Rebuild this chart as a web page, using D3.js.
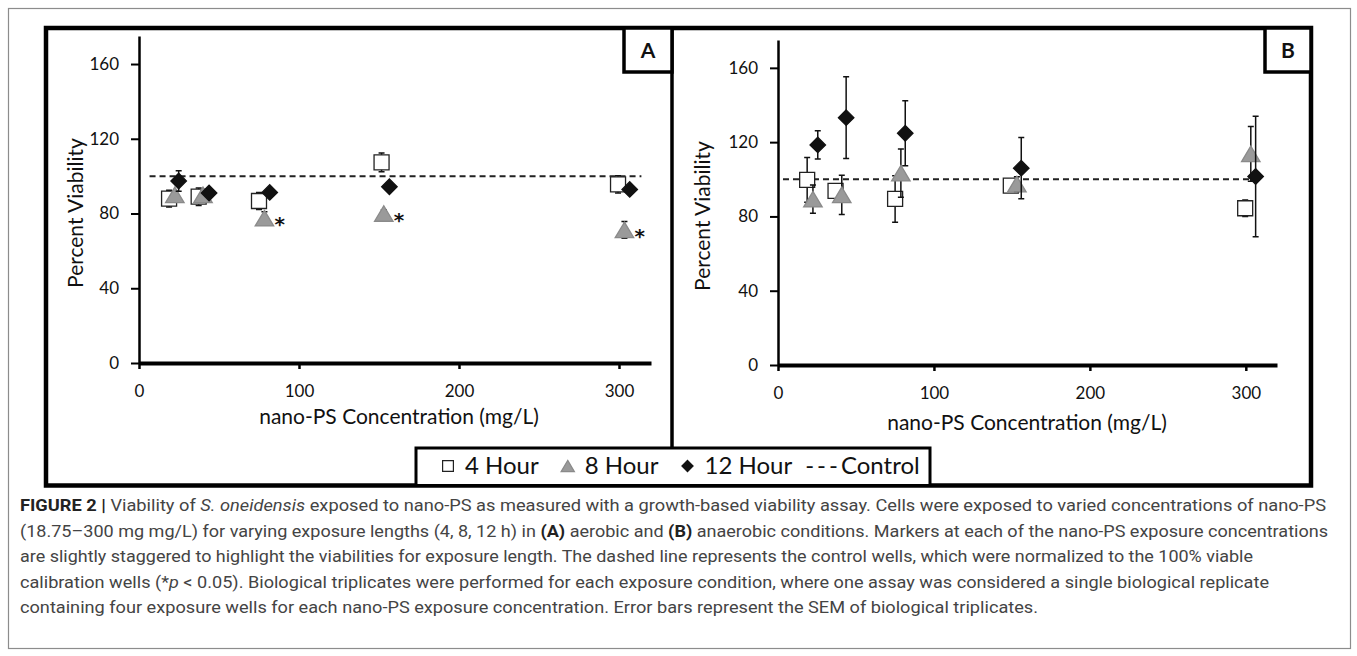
<!DOCTYPE html>
<html>
<head>
<meta charset="utf-8">
<script src="https://cdn.jsdelivr.net/npm/d3@7"></script>
<style>
  body { margin: 0; background: #fff; }
  svg { display: block; }
  .tick text { font-family: Lato, sans-serif; font-size: 17px; fill: #111; }
  .axis-title { font-family: Lato, sans-serif; font-size: 21px; fill: #111; }
  .legend text { font-family: Lato, sans-serif; font-size: 24px; fill: #111; }
  .caption { font-family: 'Liberation Sans Narrow', Roboto, sans-serif; font-size: 17px; fill: #444; }
</style>
</head>
<body>
<svg id="chart" width="1357" height="656"></svg>
<script>
// values
const seriesNames = ['4 Hour', '8 Hour', '12 Hour'];
const controlName = 'Control';
const controlValue = 100;
const xTicks = [0, 100, 200, 300];
const yTicks = [0, 40, 80, 120, 160];
const panelLabels = ['A', 'B'];

// panel A - aerobic (x is the staggered marker position in mg/L)
const aX4 = [18.8, 37.3, 75, 151.6, 299.4];
const aY4 = [88, 89, 86.7, 107.4, 95.6];
const aE4 = [4.5, 4.7, 4.5, 5, 4.6];
const aX8 = [22.4, 40, 78.4, 153, 303.4];
const aY8 = [90, 90, 77.5, 80, 71.2];
const aE8 = [2, 2, 3.5, 2, 4.5];
const aSig8 = [false, false, true, true, true];
const aX12 = [24.8, 43.8, 81.7, 156.5, 306.7];
const aY12 = [97.4, 91, 91.3, 94.3, 92.9];
const aE12 = [5.5, 2, 2, 2, 2];
const aControl = [6.6, 314];

// panel B - anaerobic
const bX4 = [18.7, 36.9, 75.1, 149.3, 299.6];
const bY4 = [99.7, 93.8, 89.4, 96.6, 84.4];
const bE4 = [12, 3, 12.5, 2, 4.5];
const bX8 = [22.4, 40.9, 78.8, 153.2, 303.2];
const bY8 = [89.3, 91.6, 103.3, 97.4, 113.7];
const bE8 = [7.6, 10.6, 13, 4, 14.7];
const bX12 = [25.5, 43.7, 81.6, 156, 306.3];
const bY12 = [118.5, 133.2, 124.8, 106, 101.5];
const bE12 = [7.6, 22, 17.5, 16.5, 32.5];
const bControl = [3.2, 305];

const zip = (xs, ys, es, sig) => xs.map((x, i) => ({x, y: ys[i], e: es[i], sig: sig ? sig[i] : false}));

const panels = [
  {
    label: panelLabels[0],
    series: [zip(aX4, aY4, aE4), zip(aX8, aY8, aE8, aSig8), zip(aX12, aY12, aE12)],
    control: aControl,
    xRange: [139, 651], yRange: [363, 36], titleX: 399, titleY: 424, yTitleX: 76, yTitleY: 213,
    box: [624, 672, 72],
  },
  {
    label: panelLabels[1],
    series: [zip(bX4, bY4, bE4), zip(bX8, bY8, bE8), zip(bX12, bY12, bE12)],
    control: bControl,
    xRange: [778, 1277], yRange: [365, 40], titleX: 1027, titleY: 430, yTitleX: 703, yTitleY: 216,
    box: [1265, 1311, 72],
  },
];

// marker styles
const markers = [
  {path: s => `M${-s/2},${-s/2}h${s}v${s}h${-s}Z`, size: 15, fill: '#fff', stroke: '#222'},
  {path: s => `M0,${-s*0.47}L${s*0.56},${s*0.47}L${-s*0.56},${s*0.47}Z`, size: 16.5, fill: '#9a9a9a', stroke: '#8a8a8a'},
  {path: s => `M0,${-s/2}L${s/2},0L0,${s/2}L${-s/2},0Z`, size: 15.5, fill: '#111', stroke: '#111'},
];

const svg = d3.select('#chart');
svg.append('rect').attr('width', 1357).attr('height', 656).attr('fill', '#fff');

// outer thin frame
svg.append('rect')
  .attr('x', 8.5).attr('y', 8.5).attr('width', 1342).attr('height', 640)
  .attr('fill', 'none').attr('stroke', '#8c8c8c').attr('stroke-width', 1.2);

// figure frame, divider and legend box
const frame = {left: 46, top: 28, right: 1311, bottom: 485.5};
svg.append('rect')
  .attr('x', frame.left).attr('y', frame.top)
  .attr('width', frame.right - frame.left).attr('height', frame.bottom - frame.top)
  .attr('fill', 'none').attr('stroke', '#000').attr('stroke-width', 4.5);
svg.append('line')
  .attr('x1', 672).attr('x2', 672).attr('y1', frame.top).attr('y2', 448)
  .attr('stroke', '#000').attr('stroke-width', 3.5);

panels.forEach(p => {
  const x = d3.scaleLinear().domain([0, 320]).range(p.xRange);
  const y = d3.scaleLinear().domain([0, 175]).range(p.yRange);
  const g = svg.append('g');

  // axes
  const yAxis = g.append('g')
    .attr('transform', `translate(${p.xRange[0]},0)`)
    .call(d3.axisLeft(y).tickValues(yTicks).tickSize(8).tickSizeOuter(0).tickPadding(12));
  yAxis.select('.domain').attr('stroke-width', 2.5);
  yAxis.selectAll('.tick line').attr('stroke-width', 2);

  const xAxis = g.append('g')
    .attr('transform', `translate(0,${p.yRange[0]})`)
    .call(d3.axisBottom(x).tickValues(xTicks).tickSize(6).tickSizeOuter(0).tickPadding(16));
  xAxis.select('.domain').attr('stroke-width', 4);
  xAxis.selectAll('.tick line').attr('stroke-width', 2.5);

  g.append('text').attr('class', 'axis-title')
    .attr('x', p.titleX).attr('y', p.titleY).attr('text-anchor', 'middle')
    .text('nano-PS Concentration (mg/L)');
  g.append('text').attr('class', 'axis-title')
    .attr('transform', `translate(${p.yTitleX},${p.yTitleY}) rotate(-90)`)
    .attr('text-anchor', 'middle').attr('dy', '0.35em')
    .text('Percent Viability');

  // control line
  g.append('line')
    .attr('x1', x(p.control[0])).attr('x2', x(p.control[1]))
    .attr('y1', y(controlValue)).attr('y2', y(controlValue))
    .attr('stroke', '#222').attr('stroke-width', 2).attr('stroke-dasharray', '6,4');

  // series: error bars then markers
  p.series.forEach((data, si) => {
    const m = markers[si];
    const sg = g.append('g');
    sg.selectAll('.err').data(data).enter().append('path')
      .attr('d', d => {
        const cx = x(d.x), y1 = y(d.y - d.e), y2 = y(d.y + d.e);
        return `M${cx},${y1}V${y2}M${cx-3},${y1}h6M${cx-3},${y2}h6`;
      })
      .attr('stroke', '#111').attr('stroke-width', 1.5).attr('fill', 'none');
    sg.selectAll('.mk').data(data).enter().append('path')
      .attr('transform', d => `translate(${x(d.x)},${y(d.y)})`)
      .attr('d', m.path(m.size))
      .attr('fill', m.fill).attr('stroke', m.stroke).attr('stroke-width', 1.3);
    sg.selectAll('.sig').data(data.filter(d => d.sig)).enter().append('text')
      .attr('x', d => x(d.x) + 10).attr('y', d => y(d.y) + 13)
      .attr('font-family', 'DejaVu Sans, sans-serif').attr('font-weight', 700).attr('font-size', 20)
      .attr('fill', '#111').text('*');
  });

  // panel label box
  const [bx0, bx1, by1] = p.box;
  g.append('rect')
    .attr('x', bx0).attr('y', frame.top).attr('width', bx1 - bx0).attr('height', by1 - frame.top)
    .attr('fill', '#fff').attr('stroke', '#000').attr('stroke-width', 3.5);
  g.append('text')
    .attr('x', (bx0 + bx1) / 2).attr('y', (frame.top + by1) / 2).attr('dy', '0.36em')
    .attr('text-anchor', 'middle')
    .attr('font-family', 'Lato, sans-serif').attr('font-weight', 700).attr('font-size', 21)
    .attr('fill', '#111').text(p.label);
});

// legend
const legendBox = {left: 416, right: 930, top: 448};
svg.append('rect')
  .attr('x', legendBox.left).attr('y', legendBox.top)
  .attr('width', legendBox.right - legendBox.left).attr('height', frame.bottom - legendBox.top)
  .attr('fill', '#fff').attr('stroke', '#000').attr('stroke-width', 3);
const legend = svg.append('g').attr('class', 'legend');
const legendY = 466;
let lx = 448;
seriesNames.forEach((name, i) => {
  const m = markers[i];
  legend.append('path')
    .attr('transform', `translate(${lx},${legendY})`)
    .attr('d', m.path(m.size * 0.72))
    .attr('fill', m.fill).attr('stroke', m.stroke).attr('stroke-width', 1.2);
  const t = legend.append('text').attr('x', lx + 17).attr('y', legendY).attr('dy', '0.35em').text(name);
  lx = lx + 17 + t.node().getComputedTextLength() + 29;
});
const ctl = legend.append('text').attr('x', lx - 16).attr('y', legendY).attr('dy', '0.35em');
ctl.append('tspan').attr('letter-spacing', 3).text('---');
ctl.append('tspan').text(controlName);

// caption
const captionLines = [
  [['FIGURE 2 | ', 'b'], ['Viability of ', ''], ['S. oneidensis', 'i'], [' exposed to nano-PS as measured with a growth-based viability assay. Cells were exposed to varied concentrations of nano-PS', '']],
  [['(18.75–300 mg mg/L) for varying exposure lengths (4, 8, 12 h) in ', ''], ['(A)', 'b'], [' aerobic and ', ''], ['(B)', 'b'], [' anaerobic conditions. Markers at each of the nano-PS exposure concentrations', '']],
  [['are slightly staggered to highlight the viabilities for exposure length. The dashed line represents the control wells, which were normalized to the 100% viable', '']],
  [['calibration wells (*', ''], ['p', 'i'], [' < 0.05). Biological triplicates were performed for each exposure condition, where one assay was considered a single biological replicate', '']],
  [['containing four exposure wells for each nano-PS exposure concentration. Error bars represent the SEM of biological triplicates.', '']],
];
const captionEnds = [1326, 1328, 1253, 1269, 1038];
const captionX = 20;
captionLines.forEach((parts, i) => {
  const t = svg.append('text').attr('class', 'caption')
    .attr('x', captionX).attr('y', 511 + i * 25.6)
    .attr('textLength', captionEnds[i] - captionX).attr('lengthAdjust', 'spacingAndGlyphs');
  parts.forEach(([txt, st]) => {
    const ts = t.append('tspan').text(txt);
    if (st === 'b') ts.attr('font-weight', 700).attr('fill', '#222');
    if (st === 'i') ts.attr('font-style', 'italic');
  });
});
</script>
</body>
</html>
